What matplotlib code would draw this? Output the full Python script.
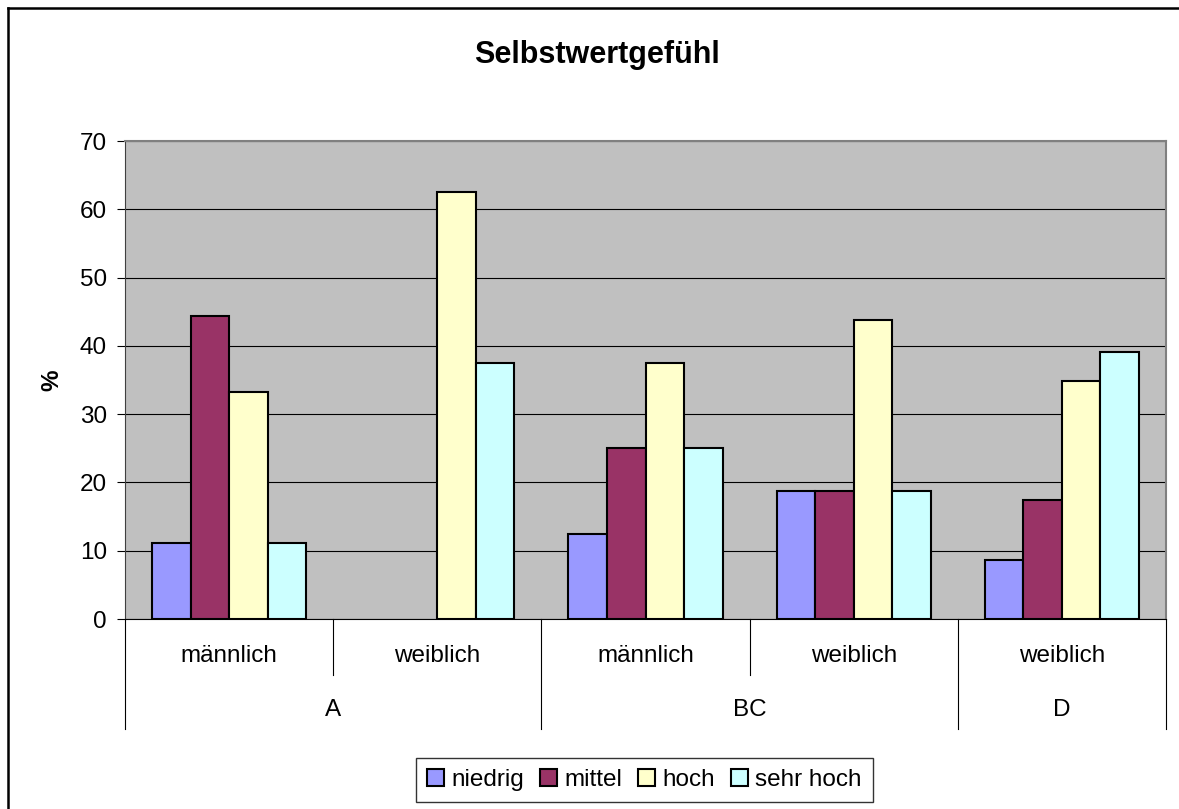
import matplotlib
matplotlib.use("Agg")
import matplotlib.pyplot as plt
import numpy as np

plt.rcParams['font.family'] = ['Liberation Sans', 'DejaVu Sans']

# data
groups = ["A", "BC", "D"]
subcats = ["männlich", "weiblich", "männlich", "weiblich", "weiblich"]
group_of = [0, 0, 1, 1, 2]
series = ["niedrig", "mittel", "hoch", "sehr hoch"]
niedrig = [11.1, 0, 12.5, 18.75, 8.7]
mittel = [44.4, 0, 25.0, 18.75, 17.4]
hoch = [33.3, 62.5, 37.5, 43.75, 34.8]
sehr_hoch = [11.1, 37.5, 25.0, 18.75, 39.1]
colors = ["#9999FF", "#993366", "#FFFFCC", "#CCFFFF"]

W, H = 1179, 809
FS = 17.5
fig = plt.figure(figsize=(W / 100, H / 100), dpi=100)
ax = fig.add_axes([125 / W, 1 - 619 / H, (1166 - 125) / W, (619 - 141) / H])
ax.set_facecolor("#C0C0C0")

n = len(subcats)
x = np.arange(n)
bw = 0.185
start = (1 - 4 * bw) / 2
vals = [niedrig, mittel, hoch, sehr_hoch]
for i, (name, v, c) in enumerate(zip(series, vals, colors)):
    v = np.array(v)
    lw = np.where(v > 0, 1.5, 0)
    ax.bar(x + start + i * bw, v, width=bw, align="edge", color=c,
           edgecolor="black", linewidth=lw, label=name, zorder=3)

ax.set_xlim(0, n)
ax.set_ylim(0, 70)
ax.set_yticks(range(0, 71, 10))
ax.yaxis.grid(True, color="black", linewidth=0.8, zorder=0)
ax.set_axisbelow(True)
ax.tick_params(axis="y", direction="out", length=6, width=0.8, labelsize=FS, pad=7)
ax.set_xticks([])
for s in ["top", "right"]:
    ax.spines[s].set_color("#808080")
    ax.spines[s].set_linewidth(1.5)
ax.spines["left"].set_color("#404040")
ax.spines["bottom"].set_color("black")
ax.set_ylabel("%", fontsize=FS, fontweight="bold", labelpad=12)

# two-level category axis
tr = ax.get_xaxis_transform()
short = -56 / 478
long_ = -110 / 478
for k in range(n + 1):
    is_group_edge = k == 0 or k == n or group_of[k] != group_of[k - 1]
    y1 = long_ if is_group_edge else short
    ax.plot([k, k], [0, y1], transform=tr, color="black", linewidth=0.8, clip_on=False)
for k, lab in enumerate(subcats):
    ax.text(k + 0.5, -37 / 478, lab, transform=tr, ha="center", va="center", fontsize=FS)
for g, gname in enumerate(groups):
    idx = [k for k in range(n) if group_of[k] == g]
    ax.text((idx[0] + idx[-1] + 1) / 2, -91 / 478, gname, transform=tr,
            ha="center", va="center", fontsize=FS)

fig.text(597 / W, 1 - 55 / H, "Selbstwertgefühl", ha="center", va="center",
         fontsize=22, fontweight="bold")

leg = fig.legend(loc="center", bbox_to_anchor=(644.5 / W, 1 - 780 / H), ncol=4,
                 fontsize=FS, frameon=True, fancybox=False, edgecolor="black",
                 handlelength=0.7, handleheight=0.7, handletextpad=0.3,
                 columnspacing=0.65, borderpad=0.45, borderaxespad=0)
leg.get_frame().set_linewidth(1.0)
for p in leg.get_patches():
    p.set_linewidth(1.5)

# outer chart border
fig.add_artist(plt.Line2D([8 / W, 1], [1 - 8 / H, 1 - 8 / H], color="black", linewidth=1.8))
fig.add_artist(plt.Line2D([8 / W, 8 / W], [0, 1 - 8 / H], color="black", linewidth=1.8))

fig.savefig("out.png", dpi=100)
